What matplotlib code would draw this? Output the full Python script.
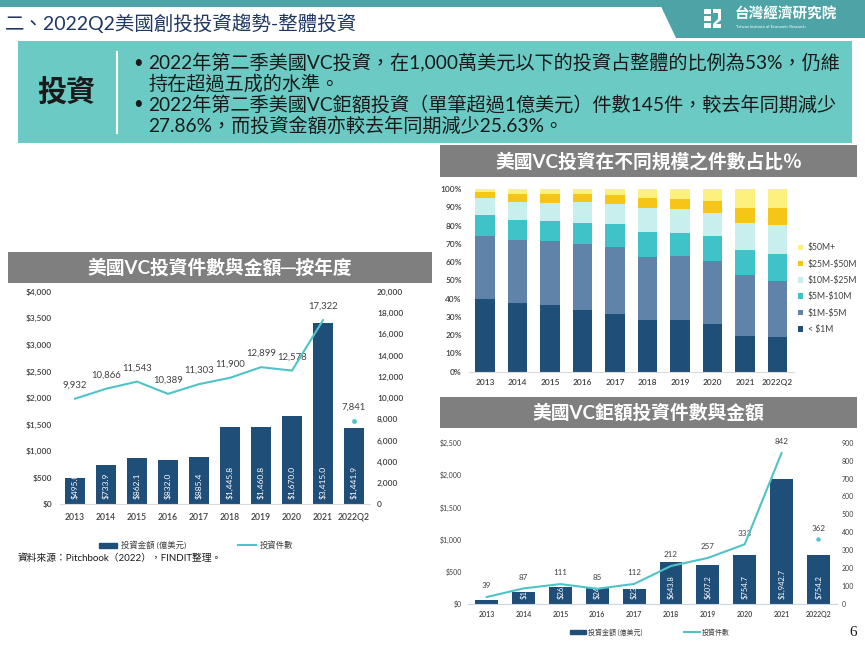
import matplotlib
matplotlib.use('Agg')
import matplotlib.pyplot as plt
from matplotlib.patches import Rectangle, Polygon
from matplotlib.lines import Line2D
from matplotlib.patches import Patch

plt.rcParams['font.family'] = ['Lato', 'Noto Sans CJK TC', 'DejaVu Sans']

W, H = 865, 649

# ---------------- data ----------------
years = ['2013', '2014', '2015', '2016', '2017', '2018', '2019', '2020', '2021', '2022Q2']

vc_amount = [495.0, 733.9, 862.1, 832.0, 885.4, 1445.8, 1460.8, 1670.0, 3415.0, 1441.9]
vc_count = [9932, 10866, 11543, 10389, 11303, 11900, 12899, 12578, 17322, 7841]

size_labels = ['< $1M', '$1M-$5M', '$5M-$10M', '$10M-$25M', '$25M-$50M', '$50M+']
share_lt1m = [39.6, 37.8, 36.5, 33.9, 31.8, 28.5, 28.1, 26.3, 19.7, 19.2]
share_1_5 = [34.9, 34.3, 35.0, 36.0, 36.3, 34.5, 35.0, 34.5, 33.0, 30.4]
share_5_10 = [11.1, 10.9, 10.8, 11.7, 12.6, 13.6, 13.0, 13.3, 13.9, 14.8]
share_10_25 = [9.3, 10.1, 10.2, 11.1, 11.3, 12.8, 13.0, 12.6, 15.0, 16.1]
share_25_50 = [3.6, 4.2, 4.6, 4.7, 4.7, 5.7, 5.6, 6.7, 7.8, 9.1]
share_50p = [1.5, 2.7, 2.9, 2.6, 3.3, 4.9, 5.3, 6.6, 10.6, 10.4]

mega_amount = [65.0, 187.6, 262.4, 248.1, 232.5, 643.8, 607.2, 754.7, 1942.7, 754.2]
mega_count = [39, 87, 111, 85, 112, 212, 257, 333, 842, 362]

amount_ticks = [0, 500, 1000, 1500, 2000, 2500, 3000, 3500, 4000]
count_ticks = [0, 2000, 4000, 6000, 8000, 10000, 12000, 14000, 16000, 18000, 20000]
pct_ticks = [0, 10, 20, 30, 40, 50, 60, 70, 80, 90, 100]
mega_amount_ticks = [0, 500, 1000, 1500, 2000, 2500]
mega_count_ticks = [0, 100, 200, 300, 400, 500, 600, 700, 800, 900]

header_title = '二、2022Q2美國創投投資趨勢-整體投資'
box_label = '投資'
bullets = [
    ('•', '2022年第二季美國VC投資，在1,000萬美元以下的投資占整體的比例為53%，仍維'),
    ('', '持在超過五成的水準。'),
    ('•', '2022年第二季美國VC鉅額投資（單筆超過1億美元）件數145件，較去年同期減少'),
    ('', '27.86%，而投資金額亦較去年同期減少25.63%。'),
]
title_left = '美國VC投資件數與金額─按年度'
title_stack = '美國VC投資在不同規模之件數占比％'
title_mega = '美國VC鉅額投資件數與金額'
legend_amount = '投資金額 (億美元)'
legend_count = '投資件數'
source = '資料來源：Pitchbook（2022），FINDIT整理。'

# ---------------- styles ----------------
navy = '#1f4e79'
line_c = '#4fc3c8'
stack_colors = ['#1f4e79', '#6084a9', '#3fc3c8', '#c8eeee', '#f5c518', '#fcf17d']
gray_bar = '#7f7f7f'
tick_c = '#404040'
axis_c = '#d9d9d9'


def esc(s):
    return s.replace('$', r'\$')


def rect(x0, y0, x1, y1):
    return [x0 / W, 1 - y1 / H, (x1 - x0) / W, (y1 - y0) / H]


fig = plt.figure(figsize=(W / 100, H / 100), dpi=100)
bg = fig.add_axes([0, 0, 1, 1])
bg.set_xlim(0, W)
bg.set_ylim(H, 0)
bg.axis('off')

# header
bg.add_patch(Rectangle((0, 0), W, 7, color='#4ea3a6', lw=0))
bg.add_patch(Polygon([(658, 0), (W, 0), (W, 38), (676, 38)], closed=True, color='#4ea3a6', lw=0))
bg.text(5, 23, header_title, fontsize=14, color='#1f3864', va='center', ha='left')
# logo (decorative)
for yy in (9, 16, 23):
    bg.add_patch(Rectangle((704, yy), 7, 4.5, color='white', lw=0))
bg.add_patch(Polygon([(713, 9), (721, 9), (721, 20), (716, 24), (721, 24), (721, 28), (713, 28),
                      (713, 24), (718, 19), (718, 13), (713, 13)], closed=True, color='white', lw=0))
bg.text(735, 15, '台灣經濟研究院', fontsize=10.5, color='white', va='center', ha='left',
        fontweight='bold')
bg.text(736, 26.5, 'Taiwan Institute of Economic Research', fontsize=3, color='white',
        va='center', ha='left')

# teal box
bg.add_patch(Rectangle((18, 41), 834, 102, color='#6ccac4', lw=0))
bg.text(66, 93, box_label, fontsize=21, color='#1a1a1a', ha='center', va='center', fontweight='bold')
bg.plot([117, 117], [52, 133], color='white', lw=1.5)
for (b, t), yy in zip(bullets, [63, 83, 104, 125]):
    if b:
        bg.text(133, yy, b, fontsize=12, color='#1a1a1a', ha='left', va='center')
    bg.text(148, yy, t, fontsize=13.8, color='#1a1a1a', ha='left', va='center')

# title bars
for (x0, y0, x1, y1), t in [((8, 252, 432, 283), title_left),
                            ((440, 145, 857, 177), title_stack),
                            ((440, 397, 857, 428), title_mega)]:
    bg.add_patch(Rectangle((x0, y0), x1 - x0, y1 - y0, color=gray_bar, lw=0))
    bg.text((x0 + x1) / 2, (y0 + y1) / 2 + 0.5, t, fontsize=13.5, color='white',
            ha='center', va='center', fontweight='bold')

bg.text(18, 558, source, fontsize=7, color='#1a1a1a', ha='left', va='center')
bg.text(853, 632, '6', fontsize=11, color='#1a1a1a', ha='center', va='center',
        family='Liberation Serif')

x = list(range(len(years)))


def style_axes(ax, fs_x, pad_x):
    for s in ['top', 'right', 'left']:
        ax.spines[s].set_visible(False)
    ax.spines['bottom'].set_color(axis_c)
    ax.set_facecolor('none')
    ax.tick_params(axis='both', length=0, colors=tick_c)
    ax.tick_params(axis='x', labelsize=fs_x, pad=pad_x)
    ax.set_xticks(x)
    ax.set_xticklabels(years, fontweight='semibold')
    ax.set_xlim(-0.5, len(years) - 0.5)


# ---------------- left chart ----------------
ax1 = fig.add_axes(rect(59.5, 291.7, 369.5, 504.3))
style_axes(ax1, 6.2, 6)
bars = ax1.bar(x, vc_amount, width=0.67, color=navy, zorder=2)
ax1.set_ylim(0, 4000)
ax1.set_yticks(amount_ticks)
ax1.set_yticklabels([f'${v:,}' for v in amount_ticks], fontweight='semibold')
ax1.tick_params(axis='y', labelsize=6, pad=5.4)
for b, v in zip(bars, vc_amount):
    t = ax1.annotate(f'${v:,.1f}', (b.get_x() + b.get_width() / 2, 0), xytext=(0, 4),
                     textcoords='offset points', rotation=90, ha='center', va='bottom',
                     color='white', fontsize=6, zorder=3)
    t.set_clip_path(b)
ax1b = ax1.twinx()
for s in ['top', 'right', 'left', 'bottom']:
    ax1b.spines[s].set_visible(False)
ax1b.set_ylim(0, 20000)
ax1b.set_yticks(count_ticks)
ax1b.set_yticklabels([f'{v:,}' for v in count_ticks], fontweight='semibold')
ax1b.tick_params(axis='y', length=0, colors=tick_c, labelsize=6, pad=5.4)
ax1b.plot(x[:-1], vc_count[:-1], color=line_c, lw=1.5, zorder=4)
ax1b.scatter([x[-1]], [vc_count[-1]], color=line_c, s=12, zorder=4, lw=0)
for xi, v in zip(x, vc_count):
    ax1b.annotate(f'{v:,}', (xi, v), xytext=(0, 10), textcoords='offset points',
                  ha='center', va='center', fontsize=6.8, color=tick_c)
fig.legend([Patch(color=navy), Line2D([], [], color=line_c, lw=1.5)],
           [legend_amount, legend_count], loc='center', ncol=2,
           bbox_to_anchor=(196 / W, 1 - 545 / H), bbox_transform=fig.transFigure,
           frameon=False, fontsize=6, handlelength=2.2, handleheight=0.6,
           columnspacing=6.2, handletextpad=0.4, labelcolor=tick_c)

# ---------------- stacked chart ----------------
ax2 = fig.add_axes(rect(468.75, 189, 793.75, 371.7))
style_axes(ax2, 6, 5)
series = [share_lt1m, share_1_5, share_5_10, share_10_25, share_25_50, share_50p]
bottom = [0.0] * len(years)
handles = []
for vals, c, lab in zip(series, stack_colors, size_labels):
    bc = ax2.bar(x, vals, bottom=bottom, width=0.6, color=c, label=esc(lab), zorder=2)
    handles.append(bc)
    bottom = [b + v for b, v in zip(bottom, vals)]
ax2.set_ylim(0, 100)
ax2.set_yticks(pct_ticks)
ax2.set_yticklabels([f'{v}%' for v in pct_ticks], fontweight='semibold')
ax2.tick_params(axis='y', labelsize=6, pad=4.9)
ax2.legend(handles[::-1], [esc(s) for s in size_labels[::-1]], loc='upper left',
           bbox_to_anchor=(794 / W, 1 - 239 / H), bbox_transform=fig.transFigure,
           frameon=False, fontsize=6.2, handlelength=0.6, handleheight=0.6,
           handletextpad=0.5, labelspacing=0.85, labelcolor=tick_c, borderpad=0)

# ---------------- mega chart ----------------
ax3 = fig.add_axes(rect(468.3, 442.7, 836.8, 604))
style_axes(ax3, 5, 4.7)
ax3.spines['bottom'].set_color('#c9d6e3')
mb = ax3.bar(x, mega_amount, width=0.62, color=navy, zorder=2)
ax3.set_ylim(0, 2500)
ax3.set_yticks(mega_amount_ticks)
ax3.set_yticklabels([f'${v:,}' for v in mega_amount_ticks])
ax3.tick_params(axis='y', labelsize=5, pad=4.5)
for b, v in zip(mb, mega_amount):
    if v < 100:
        continue  # label entirely hidden by the bar in the reference
    t = ax3.annotate(f'${v:,.1f}', (b.get_x() + b.get_width() / 2, 0), xytext=(0, 3.5),
                     textcoords='offset points', rotation=90, ha='center', va='bottom',
                     color='white', fontsize=5.5, zorder=3)
    t.set_clip_path(b)
ax3b = ax3.twinx()
for s in ['top', 'right', 'left', 'bottom']:
    ax3b.spines[s].set_visible(False)
ax3b.set_ylim(0, 900)
ax3b.set_yticks(mega_count_ticks)
ax3b.tick_params(axis='y', length=0, colors=tick_c, labelsize=5, pad=3.6)
ax3b.plot(x[:-1], mega_count[:-1], color=line_c, lw=1.5, zorder=4)
ax3b.scatter([x[-1]], [mega_count[-1]], color=line_c, s=10, zorder=4, lw=0)
for xi, v in zip(x, mega_count):
    ax3b.annotate(f'{v:,}', (xi, v), xytext=(0, 8), textcoords='offset points',
                  ha='center', va='center', fontsize=5.8, color=tick_c)
fig.legend([Patch(color=navy), Line2D([], [], color=line_c, lw=1.5)],
           [legend_amount, legend_count], loc='center', ncol=2,
           bbox_to_anchor=(650 / W, 1 - 632 / H), bbox_transform=fig.transFigure,
           frameon=False, fontsize=5, handlelength=2.3, handleheight=0.6,
           columnspacing=6, handletextpad=0.3, labelcolor=tick_c)

fig.savefig('out.png', dpi=100)
